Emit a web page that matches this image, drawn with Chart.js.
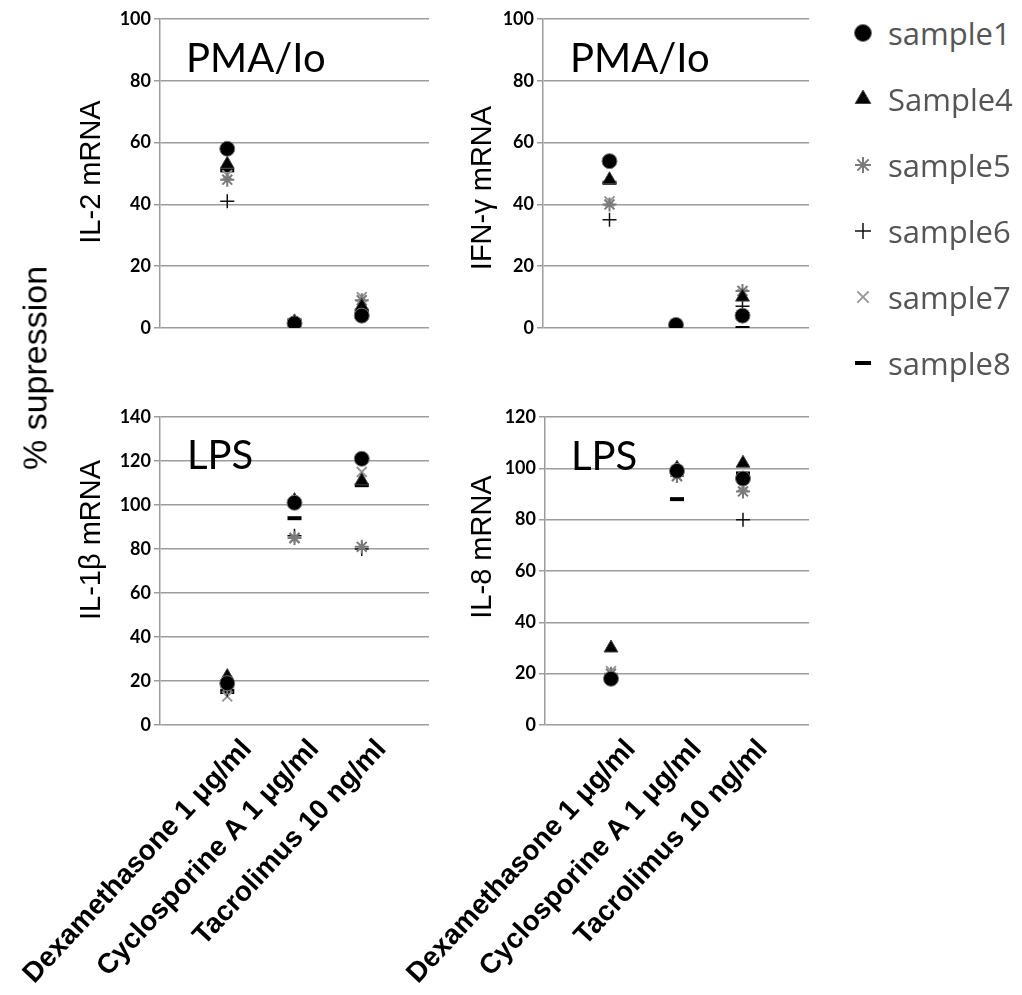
<!DOCTYPE html>
<html>
<head>
<meta charset="utf-8">
<script src="https://cdn.jsdelivr.net/npm/chart.js@4.4.1/dist/chart.umd.min.js"></script>
<style>
  body { margin: 0; background: #fff; }
  #wrap { position: relative; width: 1022px; height: 995px; overflow: hidden; background: #fff; }
  #wrap canvas.panel { position: absolute; }
  #ytitle {
    position: absolute; left: 35px; top: 368px;
    transform: translate(-50%, -50%) rotate(-90deg);
    font: 34px "Liberation Sans", Arial, sans-serif; white-space: nowrap; color: #000;
  }
  .legend-row { position: absolute; left: 848px; height: 30px; display: flex; align-items: center; }
  .legend-row canvas { width: 30px; height: 30px; }
  .legend-row span { font: 31px "Open Sans", sans-serif; color: #555; margin-left: 10px; line-height: 30px; }
</style>
</head>
<body>
<div id="wrap">
  <canvas class="panel" id="c-il2" width="440" height="345" style="left:0;top:0"></canvas>
  <canvas class="panel" id="c-ifng" width="380" height="345" style="left:440px;top:0"></canvas>
  <canvas class="panel" id="c-il1b" width="440" height="615" style="left:0;top:380px"></canvas>
  <canvas class="panel" id="c-il8" width="440" height="615" style="left:380px;top:380px"></canvas>
  <div id="ytitle">% supression</div>
  <div id="legend"></div>
</div>
<script>
// categories and series names
const categories = ['Dexamethasone 1 μg/ml', 'Cyclosporine A 1 μg/ml', 'Tacrolimus 10 ng/ml'];
const sampleNames = ['sample1', 'Sample4', 'sample5', 'sample6', 'sample7', 'sample8'];

// % suppression per sample (rows) for Dex, CsA, Tac (columns)
const il2Values = [
  [58, 1.5, 4],
  [53, 2, 7],
  [48, 1, 9],
  [41, 1, 6],
  [49.5, 0, 10],
  [51, 2.5, 5]
];
const ifngValues = [
  [54, 1, 4],
  [48, 0.5, 10],
  [40, 0.5, 12],
  [35, 0, 7],
  [41, 0.5, 11],
  [47, 0, 0]
];
const il1bValues = [
  [19, 101, 121],
  [22, 102, 111],
  [17, 85, 81],
  [16, 86, 80],
  [13, 85, 115],
  [15, 94, 109]
];
const il8Values = [
  [18, 99, 96],
  [30, 100, 102],
  [20, 97, 91],
  [19, 98, 80],
  [21, 97, 93],
  [19, 88, 98]
];

// y axis tops
const il2Max = 100, ifngMax = 100, il1bMax = 140, il8Max = 120;

// marker look for each sample
const markerStyles = [
  { pointStyle: 'circle', radius: 7.5, bg: '#000', border: '#777', bw: 1 },
  { pointStyle: 'triangle', radius: 8, bg: '#000', border: '#444', bw: 1 },
  { pointStyle: 'star', radius: 7, bg: '#888', border: '#7a7a7a', bw: 2 },
  { pointStyle: 'cross', radius: 7, bg: '#000', border: '#111', bw: 1.5 },
  { pointStyle: 'crossRot', radius: 7, bg: '#999', border: '#999', bw: 2 },
  { pointStyle: 'line', radius: 7, bg: '#000', border: '#000', bw: 4 }
];

// draws the rotated axis title and the stimulus label inside each panel
const panelText = {
  id: 'panelText',
  afterDraw(chart, args, opts) {
    const { ctx, chartArea } = chart;
    ctx.save();
    ctx.fillStyle = '#000';
    ctx.font = opts.titleFont;
    ctx.translate(chartArea.left - opts.titleOffset, opts.titleY);
    ctx.rotate(-Math.PI / 2);
    ctx.textAlign = 'center';
    ctx.textBaseline = 'alphabetic';
    ctx.fillText(opts.title, 0, 0);
    ctx.restore();

    ctx.save();
    ctx.fillStyle = '#000';
    ctx.font = opts.labelFont;
    ctx.textAlign = 'left';
    ctx.textBaseline = 'alphabetic';
    ctx.fillText(opts.label, chartArea.left + opts.labelOffset, opts.labelY);
    ctx.restore();
  }
};

function buildDatasets(values) {
  return values.map((row, s) => ({
    label: sampleNames[s],
    data: row.map((v, i) => ({ x: i + 1, y: v })),
    pointStyle: markerStyles[s].pointStyle,
    pointRadius: markerStyles[s].radius,
    pointBackgroundColor: markerStyles[s].bg,
    pointBorderColor: markerStyles[s].border,
    pointBorderWidth: markerStyles[s].bw,
    showLine: false
  }));
}

function makePanel(id, values, yMax, cfg) {
  const ctx = document.getElementById(id).getContext('2d');
  return new Chart(ctx, {
    type: 'scatter',
    data: { datasets: buildDatasets(values) },
    plugins: [panelText],
    options: {
      responsive: false,
      animation: false,
      layout: { padding: cfg.padding },
      plugins: {
        legend: { display: false },
        tooltip: { enabled: false },
        panelText: {
          title: cfg.title,
          titleFont: '29px "Liberation Sans", Arial, sans-serif',
          titleOffset: cfg.titleOffset,
          titleY: cfg.titleY,
          label: cfg.label,
          labelFont: '40px Lato, sans-serif',
          labelOffset: cfg.labelOffset,
          labelY: cfg.labelY
        }
      },
      scales: {
        x: {
          type: 'linear',
          min: 0,
          max: 4,
          grid: { display: false },
          border: { display: false },
          afterBuildTicks: scale => { scale.ticks = [1, 2, 3].map(v => ({ value: v })); },
          afterFit: scale => {
            // rotated labels may hang past the plot edges; keep the plot box fixed
            scale.height = cfg.xHeight;
            scale.paddingLeft = 0;
            scale.paddingRight = 0;
          },
          ticks: {
            display: cfg.showLabels,
            autoSkip: false,
            minRotation: 47,
            maxRotation: 47,
            padding: 0,
            labelOffset: 20,
            color: '#000',
            font: { family: 'Liberation Sans', weight: 'bold', size: 28 },
            callback: v => categories[v - 1] || ''
          }
        },
        y: {
          min: 0,
          max: yMax,
          afterFit: scale => { scale.width = cfg.yWidth; },
          ticks: {
            stepSize: 20,
            padding: 3,
            color: '#000',
            font: { family: 'Lato', weight: 'bold', size: 18 }
          },
          grid: { color: '#9c9c9c', lineWidth: 1.5, tickLength: 6 },
          border: { color: '#9c9c9c', width: 1.5 }
        }
      }
    }
  });
}

makePanel('c-il2', il2Values, il2Max, {
  padding: { left: 0, top: 19, right: 8, bottom: 17 },
  yWidth: 160, xHeight: 0, showLabels: false,
  title: 'IL-2 mRNA', titleOffset: 60, titleY: 172,
  label: 'PMA/Io', labelOffset: 26, labelY: 72
});
makePanel('c-ifng', ifngValues, ifngMax, {
  padding: { left: 0, top: 19, right: 5, bottom: 17 },
  yWidth: 103, xHeight: 0, showLabels: false,
  title: 'IFN-γ mRNA', titleOffset: 52, titleY: 188,
  label: 'PMA/Io', labelOffset: 27, labelY: 72
});
makePanel('c-il1b', il1bValues, il1bMax, {
  padding: { left: 0, top: 37, right: 8, bottom: 0 },
  yWidth: 160, xHeight: 270, showLabels: true,
  title: 'IL-1β mRNA', titleOffset: 60, titleY: 160,
  label: 'LPS', labelOffset: 27, labelY: 89
});
makePanel('c-il8', il8Values, il8Max, {
  padding: { left: 0, top: 37, right: 5, bottom: 0 },
  yWidth: 165, xHeight: 270, showLabels: true,
  title: 'IL-8 mRNA', titleOffset: 54, titleY: 167,
  label: 'LPS', labelOffset: 26, labelY: 90
});

// legend on the right
const legendEl = document.getElementById('legend');
const legendTops = [33, 99, 165, 231, 297, 363];
sampleNames.forEach((name, s) => {
  const row = document.createElement('div');
  row.className = 'legend-row';
  row.style.top = (legendTops[s] - 15) + 'px';
  const c = document.createElement('canvas');
  c.width = 30; c.height = 30;
  const g = c.getContext('2d');
  const st = markerStyles[s];
  g.fillStyle = st.bg;
  g.strokeStyle = st.border;
  g.lineWidth = st.bw;
  Chart.helpers.drawPoint(g, { pointStyle: st.pointStyle, radius: st.radius + 1, rotation: 0, borderWidth: st.bw }, 15, 15);
  const t = document.createElement('span');
  t.textContent = name;
  row.appendChild(c);
  row.appendChild(t);
  legendEl.appendChild(row);
});
</script>
</body>
</html>
